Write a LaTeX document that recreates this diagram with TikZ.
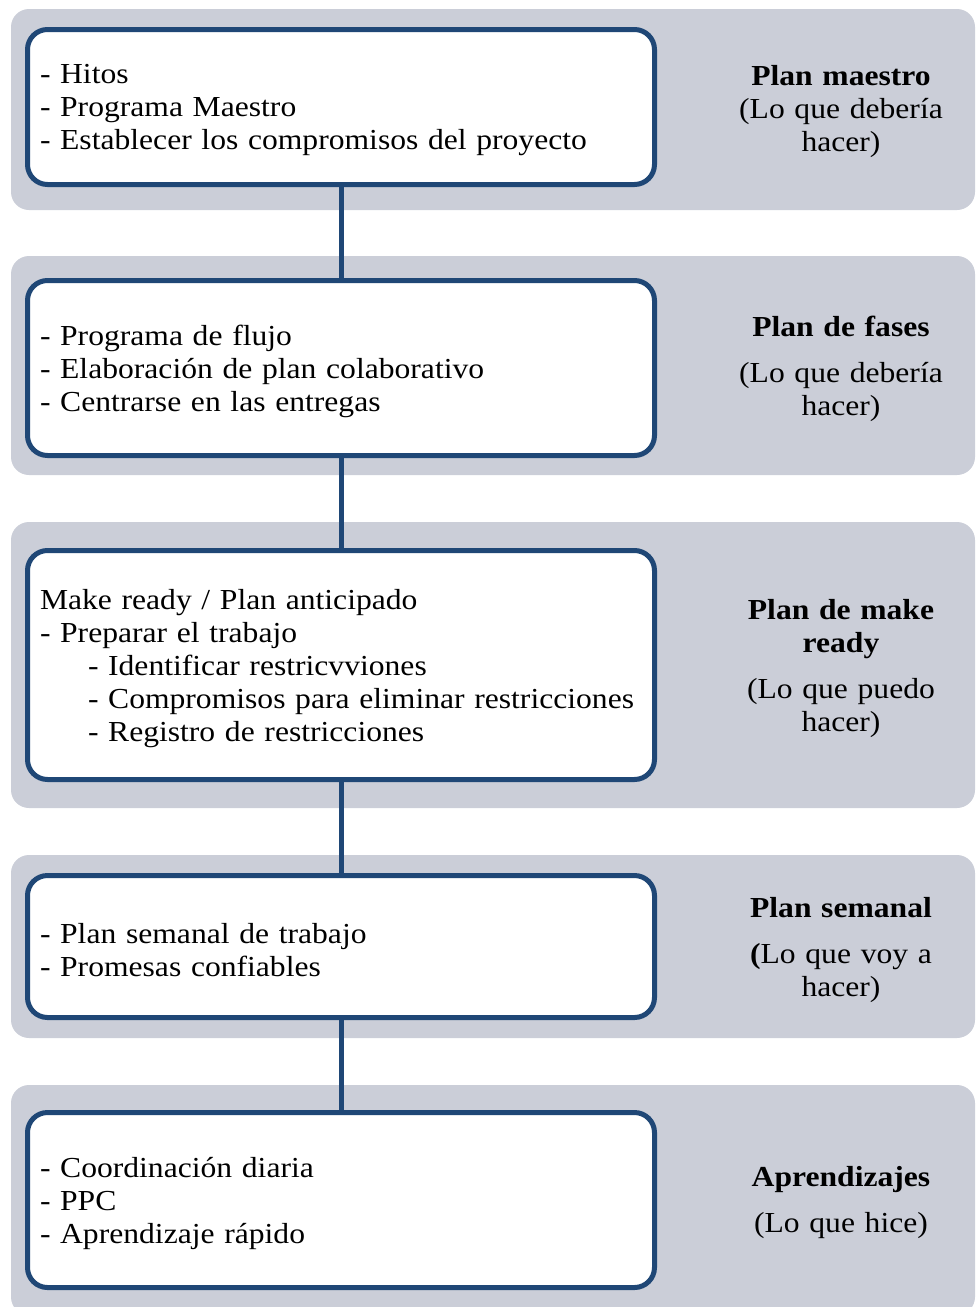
\documentclass[tikz,border=0pt]{standalone}
\usepackage{fontspec}
\setmainfont{Liberation Serif}[FakeStretch=1.09]
\usepackage{xcolor}
\usetikzlibrary{positioning,calc}

\definecolor{bandgray}{HTML}{CBCED8}
\definecolor{lineblue}{HTML}{1F4776}

\tikzset{
  band/.style={fill=bandgray, draw=none, rounded corners=18pt, minimum width=964pt},
  stagebox/.style={draw=lineblue, line width=5pt, fill=white, rounded corners=20pt,
    minimum width=627pt, text width=602pt, inner xsep=12.5pt, align=left,
    font=\fontsize{29pt}{33pt}\selectfont,
    execute at end node={\par\vspace*{-7pt}}},
  stagelabel/.style={text width=230pt, align=center, font=\fontsize{29pt}{33pt}\selectfont},
  link/.style={draw=lineblue, line width=5pt}
}

\begin{document}
\begin{tikzpicture}[x=1pt, y=-1pt]
    \useasboundingbox (0,0) rectangle (975,1307);
    \clip (0,0) rectangle (975,1307);

    % Bandas grises
    \node[band, minimum height=201pt] (bandA) at (493,109.5) {};
    \node[band, minimum height=219pt] (bandB) at (493,365.5) {};
    \node[band, minimum height=286pt] (bandC) at (493,665) {};
    \node[band, minimum height=183pt] (bandD) at (493,946.5) {};
    \node[band, minimum height=230pt] (bandE) at (493,1200) {};

    % Cajas de contenido
    \node[stagebox, minimum height=155pt] (boxA) at (341,107) {- Hitos\\- Programa Maestro\\- Establecer los compromisos del proyecto};
    \node[stagebox, minimum height=175pt] (boxB) at (341,368) {- Programa de flujo\\- Elaboración de plan colaborativo\\- Centrarse en las entregas};
    \node[stagebox, minimum height=229pt] (boxC) at (341,665) {Make ready / Plan anticipado\\- Preparar el trabajo\\
      \hspace*{48pt}- Identificar restricvviones\\
      \hspace*{48pt}- Compromisos para eliminar restricciones\\
      \hspace*{48pt}- Registro de restricciones};
    \node[stagebox, minimum height=142pt] (boxD) at (341,946.5) {- Plan semanal de trabajo\\- Promesas confiables};
    \node[stagebox, minimum height=175pt] (boxE) at (341,1200) {- Coordinación diaria\\- PPC\\- Aprendizaje rápido};

    % Conectores
    \draw[link] (boxA.south) -- (boxB.north);
    \draw[link] (boxB.south) -- (boxC.north);
    \draw[link] (boxC.south) -- (boxD.north);
    \draw[link] (boxD.south) -- (boxE.north);

    % Etiquetas
    \node[stagelabel] (labelA) at (841,111.5) {\textbf{Plan maestro}\\(Lo que debería\\hacer)};
    \node[stagelabel] (labelB) at (841,369) {\textbf{Plan de fases}\\[13pt](Lo que debería\\hacer)};
    \node[stagelabel] (labelC) at (841,668.5) {\textbf{Plan de make}\\\textbf{ready}\\[13pt](Lo que puedo\\hacer)};
    \node[stagelabel] (labelD) at (841,950.5) {\textbf{Plan semanal}\\[13pt]\textbf{(}Lo que voy a\\hacer)};
    \node[stagelabel] (labelE) at (841,1202.5) {\textbf{Aprendizajes}\\[13pt](Lo que hice)};
\end{tikzpicture}
\end{document}
